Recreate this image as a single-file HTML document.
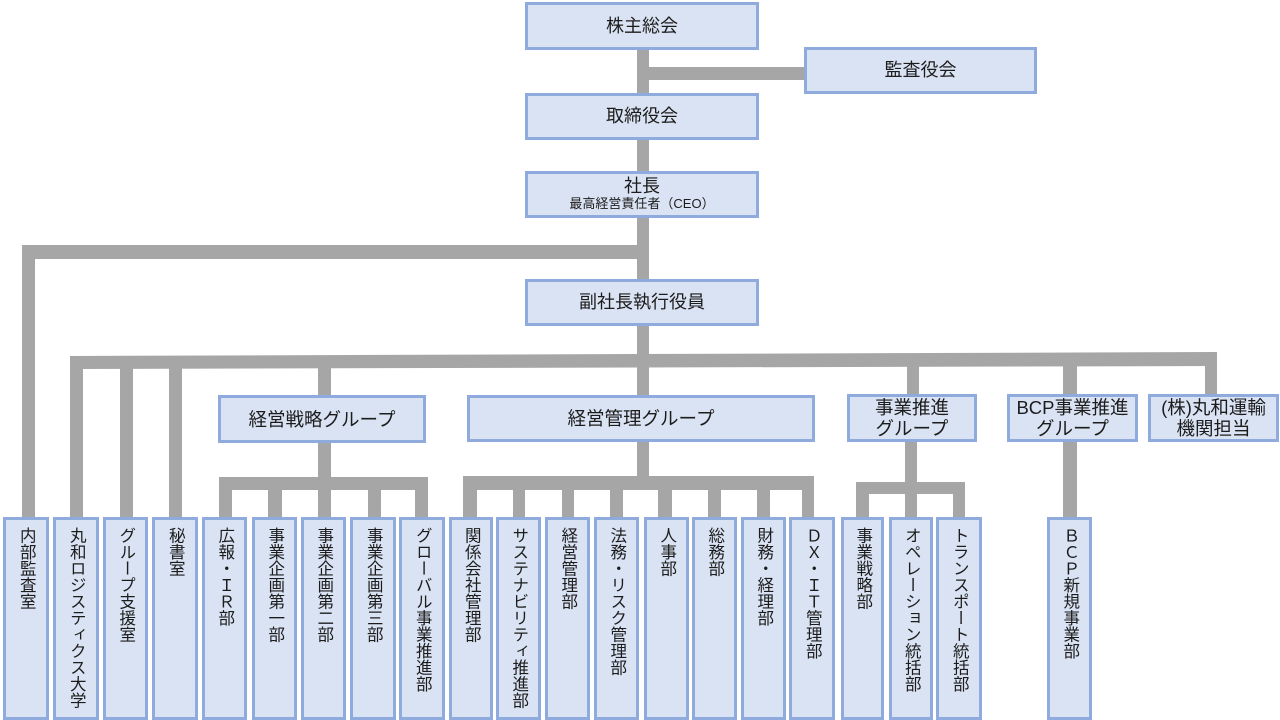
<!DOCTYPE html>
<html lang="ja">
<head>
<meta charset="utf-8">
<style>
  html, body { margin:0; padding:0; background:#fff; }
  body { width:1280px; height:720px; position:relative; overflow:hidden;
         font-family:"Liberation Sans","Noto Sans CJK JP",sans-serif; color:#1c1c1c; }
  svg.lines { position:absolute; left:0; top:0; }
  .b { position:absolute; box-sizing:border-box; background:#DAE3F3; border:3px solid #8FAADC;
       display:flex; align-items:center; justify-content:center; text-align:center;
       font-size:18px; line-height:21px; white-space:nowrap; }
  .v { position:absolute; box-sizing:border-box; background:#DAE3F3; border:3px solid #8FAADC;
       top:517px; height:203px; }
  .v span { position:absolute; top:7px; left:50%; transform:translateX(-50%);
       writing-mode:vertical-rl; font-size:16.5px; line-height:1; white-space:nowrap; }
</style>
</head>
<body>
<svg class="lines" width="1280" height="720" xmlns="http://www.w3.org/2000/svg">
  <g fill="#A6A6A6">
    <!-- main trunk -->
    <rect x="637" y="40" width="12" height="260"/>
    <rect x="637" y="320" width="12" height="80"/>
    <rect x="637" y="438" width="12" height="45"/>
    <!-- to 監査役会 -->
    <rect x="645" y="67" width="162" height="13"/>
    <!-- line to 内部監査室 -->
    <rect x="22" y="245" width="627" height="14"/>
    <rect x="22" y="245" width="13" height="275"/>
    <!-- second bar -->
    <polygon points="70,356 1217,352 1217,366 70,369"/>
    <rect x="70" y="356" width="13" height="164"/>
    <rect x="120" y="356" width="13" height="164"/>
    <rect x="169" y="356" width="13" height="164"/>
    <rect x="318" y="356" width="13" height="42"/>
    <rect x="907" y="354" width="12" height="43"/>
    <rect x="1063" y="353" width="14" height="44"/>
    <rect x="1205" y="352" width="12" height="46"/>
    <!-- 経営戦略 sub -->
    <rect x="318" y="440" width="13" height="40"/>
    <rect x="219" y="477" width="209" height="13"/>
    <rect x="219" y="477" width="13" height="43"/>
    <rect x="268" y="477" width="14" height="43"/>
    <rect x="318" y="477" width="13" height="43"/>
    <rect x="368" y="477" width="13" height="43"/>
    <rect x="415" y="477" width="13" height="43"/>
    <!-- 経営管理 sub -->
    <rect x="463" y="476" width="351" height="14"/>
    <rect x="463" y="476" width="14" height="44"/>
    <rect x="513" y="476" width="12" height="44"/>
    <rect x="562" y="476" width="12" height="44"/>
    <rect x="610" y="476" width="13" height="44"/>
    <rect x="658" y="476" width="14" height="44"/>
    <rect x="708" y="476" width="13" height="44"/>
    <rect x="757" y="476" width="13" height="44"/>
    <rect x="802" y="476" width="12" height="44"/>
    <!-- 事業推進 sub -->
    <rect x="905" y="440" width="12" height="45"/>
    <rect x="856" y="482" width="109" height="12"/>
    <rect x="856" y="482" width="13" height="38"/>
    <rect x="905" y="482" width="12" height="38"/>
    <rect x="953" y="482" width="12" height="38"/>
    <!-- BCP -->
    <rect x="1063" y="440" width="14" height="80"/>
  </g>
</svg>

<div class="b" style="left:525px;top:2px;width:234px;height:48px;">株主総会</div>
<div class="b" style="left:804px;top:47px;width:233px;height:47px;">監査役会</div>
<div class="b" style="left:525px;top:93px;width:234px;height:47px;">取締役会</div>
<div class="b" style="left:525px;top:171px;width:234px;height:47px;flex-direction:column;">
  <div style="font-size:18px;line-height:20px;margin-top:-2px;">社長</div>
  <div style="font-size:13px;line-height:16px;">最高経営責任者（CEO）</div>
</div>
<div class="b" style="left:525px;top:279px;width:234px;height:47px;">副社長執行役員</div>

<div class="b" style="left:218px;top:395px;width:208px;height:48px;font-size:18.5px;">経営戦略グループ</div>
<div class="b" style="left:467px;top:395px;width:348px;height:47px;font-size:18.5px;">経営管理グループ</div>
<div class="b" style="left:847px;top:394px;width:130px;height:48px;font-size:18.5px;">事業推進<br>グループ</div>
<div class="b" style="left:1007px;top:394px;width:131px;height:48px;font-size:18.5px;">BCP事業推進<br>グループ</div>
<div class="b" style="left:1148px;top:394px;width:131px;height:48px;font-size:18.5px;">(株)丸和運輸<br>機関担当</div>

<div class="v" style="left:3px;width:46px;"><span>内部監査室</span></div>
<div class="v" style="left:53px;width:46px;"><span>丸和ロジスティクス大学</span></div>
<div class="v" style="left:103px;width:45px;"><span>グループ支援室</span></div>
<div class="v" style="left:152px;width:46px;"><span>秘書室</span></div>
<div class="v" style="left:202px;width:45px;"><span>広報・ＩＲ部</span></div>
<div class="v" style="left:252px;width:45px;"><span>事業企画第一部</span></div>
<div class="v" style="left:301px;width:45px;"><span>事業企画第二部</span></div>
<div class="v" style="left:350px;width:46px;"><span>事業企画第三部</span></div>
<div class="v" style="left:399px;width:46px;"><span>グローバル事業推進部</span></div>
<div class="v" style="left:449px;width:44px;"><span>関係会社管理部</span></div>
<div class="v" style="left:496px;width:45px;"><span>サステナビリティ推進部</span></div>
<div class="v" style="left:545px;width:45px;"><span>経営管理部</span></div>
<div class="v" style="left:594px;width:45px;"><span>法務・リスク管理部</span></div>
<div class="v" style="left:644px;width:45px;"><span>人事部</span></div>
<div class="v" style="left:692px;width:45px;"><span>総務部</span></div>
<div class="v" style="left:741px;width:45px;"><span>財務・経理部</span></div>
<div class="v" style="left:789px;width:46px;"><span>ＤＸ・ＩＴ管理部</span></div>
<div class="v" style="left:841px;width:43px;"><span>事業戦略部</span></div>
<div class="v" style="left:889px;width:44px;"><span>オペレーション統括部</span></div>
<div class="v" style="left:936px;width:46px;"><span>トランスポート統括部</span></div>
<div class="v" style="left:1047px;width:45px;"><span>ＢＣＰ新規事業部</span></div>
</body>
</html>
